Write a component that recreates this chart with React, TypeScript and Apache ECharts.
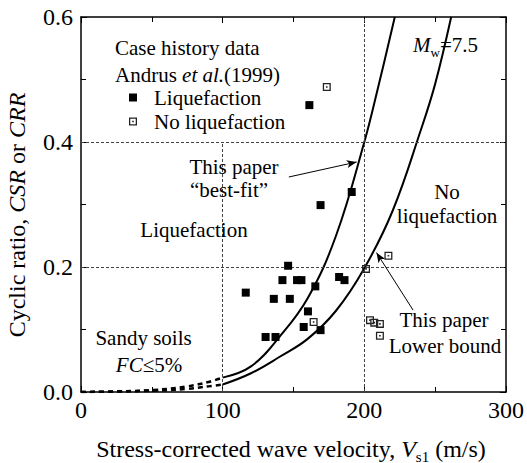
import React, { useEffect, useRef } from 'react';
import * as echarts from 'echarts';

const FONT = "'Liberation Serif', 'Times New Roman', serif";

// Case history data (Andrus et al. 1999)
const liqVs1 = [116.3, 130.3, 137.3, 136.1, 142.2, 146.2, 147.4, 152.5, 155.6, 157.2, 160.2, 161.2, 165.4, 169.1, 169.1, 182.2, 186, 191.1];
const liqCRR = [0.159, 0.088, 0.088, 0.149, 0.179, 0.202, 0.149, 0.179, 0.179, 0.104, 0.129, 0.459, 0.169, 0.099, 0.299, 0.184, 0.179, 0.32];
const noLiqVs1 = [173.5, 164.2, 201.2, 217, 204, 207, 211, 211];
const noLiqCRR = [0.488, 0.112, 0.197, 0.218, 0.115, 0.111, 0.109, 0.09];

// This paper "best-fit" curve
const bestFitVs1 = [100, 120, 140, 160, 180, 200, 210, 221.5];
const bestFitCRR = [0.023, 0.041, 0.088, 0.15, 0.25, 0.4, 0.49, 0.6];
const bestFitExtVs1 = [0, 25, 50, 75, 90, 100];
const bestFitExtCRR = [0, 0.001, 0.003, 0.009, 0.016, 0.023];

// This paper lower bound curve
const lowerVs1 = [100, 120, 140, 160, 180, 200, 220, 240, 250, 261.3];
const lowerCRR = [0.012, 0.03, 0.056, 0.085, 0.13, 0.198, 0.29, 0.42, 0.493, 0.6];
const lowerExtVs1 = [0, 50, 75, 90, 100];
const lowerExtCRR = [0, 0.002, 0.005, 0.009, 0.012];

const xTicks = [0, 100, 200, 300];
const yTicks = [0, 0.2, 0.4, 0.6];

const zip = (a: number[], b: number[]) => a.map((v, i) => [v, b[i]]);

const OPEN_SQ = 'path://M0,0 H10 V10 H0 Z M1.6,1.6 V8.4 H8.4 V1.6 Z M4,4 H6 V6 H4 Z';

export default function App() {
  const ref = useRef<HTMLDivElement>(null);
  useEffect(() => {
    if (!ref.current) return;
    const chart = echarts.init(ref.current, undefined, { renderer: 'svg' });
    const txt = (x: number, y: number, text: string, align: string = 'center', extra: any = {}) => ({
      type: 'text',
      x,
      y,
      style: {
        text,
        fontFamily: FONT,
        fontSize: 21,
        fill: '#000',
        align,
        verticalAlign: 'middle',
        ...extra,
      },
      z: 100,
    });
    const axisCommon = {
      min: 0,
      axisLine: { show: true, onZero: false, lineStyle: { color: '#000', width: 1.5 } },
      axisTick: { show: true, inside: true, length: 6, lineStyle: { color: '#000', width: 1 } },
      minorTick: { show: true, splitNumber: 2, length: 5, lineStyle: { color: '#000', width: 1 } },
      splitLine: { show: false },
    };
    const gridLine = { color: '#444', width: 1, type: [3, 2] };
    chart.setOption({
      animation: false,
      backgroundColor: '#fff',
      grid: { left: 81, top: 17, right: 18.5, bottom: 71, containLabel: false },
      legend: {
        data: ['Liquefaction', 'No liquefaction'],
        orient: 'vertical',
        left: 129,
        top: 87,
        padding: 0,
        itemWidth: 8,
        itemHeight: 8,
        itemGap: 3,
        textStyle: { fontFamily: FONT, fontSize: 21, color: '#000', padding: [0, 0, 0, 12], lineHeight: 21 },
      },
      xAxis: [
        {
          ...axisCommon,
          type: 'value',
          max: 300,
          interval: 100,
          position: 'bottom',
          axisLabel: { fontFamily: FONT, fontSize: 24, color: '#000', margin: 6 },
        },
        {
          ...axisCommon,
          type: 'value',
          max: 300,
          interval: 100,
          position: 'top',
          axisLabel: { show: false },
        },
      ],
      yAxis: [
        {
          ...axisCommon,
          type: 'value',
          max: 0.6,
          interval: 0.2,
          position: 'left',
          axisLabel: {
            fontFamily: FONT,
            fontSize: 24,
            color: '#000',
            margin: 8,
            formatter: (v: number) => v.toFixed(1),
          },
        },
        {
          ...axisCommon,
          type: 'value',
          max: 0.6,
          interval: 0.2,
          position: 'right',
          axisLabel: { show: false },
        },
      ],
      series: [
        {
          type: 'line',
          name: 'grid',
          data: [],
          silent: true,
          markLine: {
            silent: true,
            symbol: ['none', 'none'],
            label: { show: false },
            lineStyle: gridLine,
            data: [
              [{ coord: [xTicks[1], yTicks[0]] }, { coord: [xTicks[1], yTicks[2]] }],
              [{ coord: [xTicks[2], yTicks[0]] }, { coord: [xTicks[2], yTicks[3]] }],
              [{ coord: [xTicks[0], yTicks[1]] }, { coord: [xTicks[3], yTicks[1]] }],
              [{ coord: [xTicks[0], yTicks[2]] }, { coord: [xTicks[3], yTicks[2]] }],
            ],
          },
        },
        {
          type: 'line',
          name: 'best-fit',
          data: zip(bestFitVs1, bestFitCRR),
          smooth: 0.4,
          symbol: 'none',
          lineStyle: { color: '#000', width: 2 },
          markLine: {
            silent: true,
            symbol: ['none', 'arrow'],
            symbolSize: [6, 10],
            label: { show: false },
            lineStyle: { color: '#000', width: 1, type: 'solid' },
            data: [
              [{ coord: [146.7, 0.344] }, { coord: [194.6, 0.368] }],
              [{ coord: [234.4, 0.131] }, { coord: [208.6, 0.223] }],
            ],
          },
        },
        {
          type: 'line',
          name: 'best-fit ext',
          data: zip(bestFitExtVs1, bestFitExtCRR),
          smooth: 0.4,
          symbol: 'none',
          lineStyle: { color: '#000', width: 2.5, type: [5, 4] },
        },
        {
          type: 'line',
          name: 'lower',
          data: zip(lowerVs1, lowerCRR),
          smooth: 0.4,
          symbol: 'none',
          lineStyle: { color: '#000', width: 2 },
        },
        {
          type: 'line',
          name: 'lower ext',
          data: zip(lowerExtVs1, lowerExtCRR),
          smooth: 0.4,
          symbol: 'none',
          lineStyle: { color: '#000', width: 2.5, type: [5, 4] },
        },
        {
          type: 'scatter',
          name: 'Liquefaction',
          data: zip(liqVs1, liqCRR),
          symbol: 'rect',
          symbolSize: 8,
          itemStyle: { color: '#000', opacity: 1 },
          z: 5,
        },
        {
          type: 'scatter',
          name: 'No liquefaction',
          data: zip(noLiqVs1, noLiqCRR),
          symbol: OPEN_SQ,
          symbolSize: 8,
          itemStyle: { color: '#222', opacity: 1 },
          z: 5,
        },
      ],
      graphic: [
        txt(115, 48, 'Case history data', 'left'),
        {
          type: 'text',
          x: 115,
          y: 75,
          z: 100,
          style: {
            text: '{n|Andrus }{i|et al.}{n|(1999)}',
            fontFamily: FONT,
            fontSize: 21,
            verticalAlign: 'middle',
            rich: {
              n: { fontFamily: FONT, fontSize: 21, fill: '#000' },
              i: { fontFamily: FONT, fontSize: 21, fontStyle: 'italic', fill: '#000' },
            },
          },
        },
        {
          type: 'text',
          x: 413,
          y: 45,
          z: 100,
          style: {
            text: '{m|M}{s|w}{n|=7.5}',
            fontFamily: FONT,
            verticalAlign: 'middle',
            rich: {
              m: { fontFamily: FONT, fontSize: 21, fontStyle: 'italic', fill: '#000', lineHeight: 28 },
              s: { fontFamily: FONT, fontSize: 13, fill: '#000', lineHeight: 12, verticalAlign: 'bottom' },
              n: { fontFamily: FONT, fontSize: 21, fill: '#000', lineHeight: 28 },
            },
          },
        },
        txt(234, 167, 'This paper'),
        txt(229, 190, '\u201cbest-fit\u201d'),
        txt(194, 230, 'Liquefaction'),
        txt(447, 192, 'No'),
        txt(447, 216, 'liquefaction'),
        txt(444, 320, 'This paper'),
        txt(445, 346, 'Lower bound'),
        txt(143.5, 338, 'Sandy soils'),
        {
          type: 'text',
          x: 149,
          y: 365,
          z: 100,
          style: {
            text: '{i|FC}{n|\u22645%}',
            fontFamily: FONT,
            align: 'center',
            verticalAlign: 'middle',
            rich: {
              i: { fontFamily: FONT, fontSize: 21, fontStyle: 'italic', fill: '#000' },
              n: { fontFamily: FONT, fontSize: 21, fill: '#000' },
            },
          },
        },
        {
          type: 'text',
          x: 291,
          y: 449,
          z: 100,
          style: {
            text: '{n|Stress-corrected wave velocity, }{i|V}{s|s1}{n| (m/s)}',
            fontFamily: FONT,
            align: 'center',
            verticalAlign: 'middle',
            rich: {
              n: { fontFamily: FONT, fontSize: 24, fill: '#000', lineHeight: 30 },
              i: { fontFamily: FONT, fontSize: 24, fontStyle: 'italic', fill: '#000', lineHeight: 30 },
              s: { fontFamily: FONT, fontSize: 15, fill: '#000', lineHeight: 14, verticalAlign: 'bottom' },
            },
          },
        },
        {
          type: 'text',
          x: 17,
          y: 215,
          rotation: Math.PI / 2,
          z: 100,
          style: {
            text: '{n|Cyclic ratio, }{i|CSR}{n| or }{i|CRR}',
            fontFamily: FONT,
            align: 'center',
            verticalAlign: 'middle',
            rich: {
              n: { fontFamily: FONT, fontSize: 24, fill: '#000' },
              i: { fontFamily: FONT, fontSize: 24, fontStyle: 'italic', fill: '#000' },
            },
          },
        },
      ],
    });
    return () => chart.dispose();
  }, []);
  return <div ref={ref} style={{ width: 527, height: 463, position: 'absolute', left: 0, top: 0 }} />;
}
